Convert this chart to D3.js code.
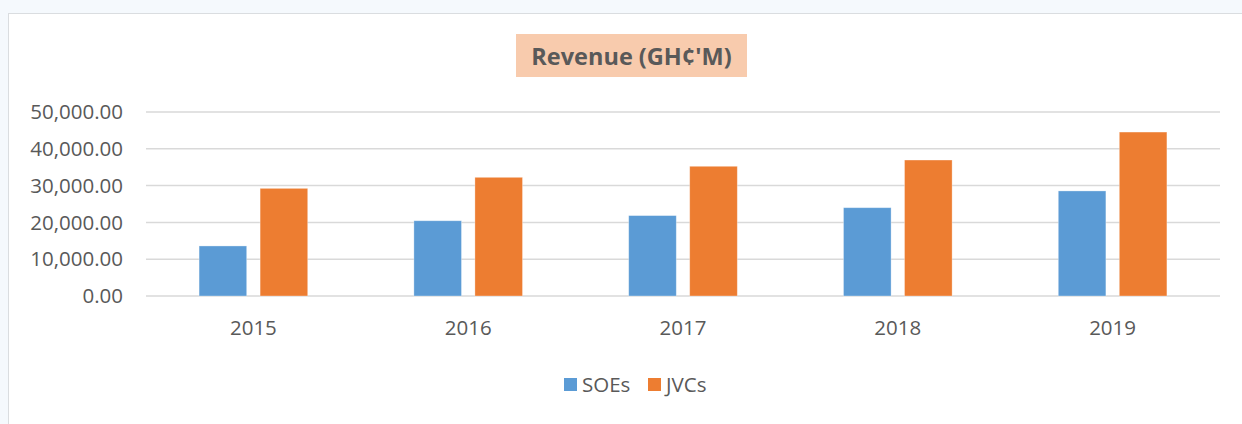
<!DOCTYPE html>
<html>
<head>
<meta charset="utf-8">
<script src="https://cdn.jsdelivr.net/npm/d3@7"></script>
<style>
  body { margin: 0; background: #f5f9fd; }
  svg { display: block; }
  text { font-family: "Open Sans", "Noto Sans", sans-serif; fill: #595959; }
</style>
</head>
<body>
<script>
var years = ["2015", "2016", "2017", "2018", "2019"];
var seriesNames = ["SOEs", "JVCs"];
var soes = [13600, 20450, 21850, 24000, 28550];
var jvcs = [29250, 32250, 35250, 36950, 44550];
var yTicks = [0, 10000, 20000, 30000, 40000, 50000];
var colors = ["#5b9bd5", "#ed7d31"];

var config = {
    width: 1242,
    height: 424,
    left: 146,
    right: 1220,
    top: 112,
    bottom: 296
}

var svg = d3.select("body").append("svg")
    .attr("width", config.width)
    .attr("height", config.height)

// chart frame
svg.append("rect")
    .attr("x", 8.5).attr("y", 13.5)
    .attr("width", config.width).attr("height", config.height)
    .attr("fill", "#fff").attr("stroke", "#dadde0")

var rows = years.map(function(y, i) {
    return {year: y, values: [soes[i], jvcs[i]]};
})

var x0 = d3.scaleBand().domain(years).range([config.left, config.right]).padding(0)
var x1 = d3.scaleBand().domain(d3.range(seriesNames.length))
    .range([0, x0.bandwidth()]).paddingInner(0.22).paddingOuter(0.87)
var y = d3.scaleLinear().domain([0, 50000]).range([config.bottom, config.top])

// gridlines
svg.append("g")
    .selectAll("line")
    .data(yTicks)
    .enter().append("line")
        .attr("x1", config.left).attr("x2", config.right)
        .attr("y1", function(d) { return y(d); })
        .attr("y2", function(d) { return y(d); })
        .attr("stroke", "#d9d9d9").attr("stroke-width", 1.5)

// y labels
svg.append("g")
    .selectAll("text")
    .data(yTicks)
    .enter().append("text")
        .attr("x", 123)
        .attr("y", function(d) { return y(d); })
        .attr("dy", "0.35em")
        .attr("text-anchor", "end")
        .style("font-size", "20.5px")
        .text(function(d) { return d3.format(",.2f")(d); })

// bars
var groups = svg.append("g")
    .selectAll("g")
    .data(rows)
    .enter().append("g")
        .attr("transform", function(d) { return "translate(" + x0(d.year) + ",0)"; })

groups.selectAll("rect")
    .data(function(d) { return d.values; })
    .enter().append("rect")
        .attr("x", function(d, i) { return x1(i); })
        .attr("width", x1.bandwidth())
        .attr("y", function(d) { return y(d); })
        .attr("height", function(d) { return y(0) - y(d); })
        .attr("fill", function(d, i) { return colors[i]; })
        .attr("stroke", "#fff").attr("stroke-opacity", 0.4).attr("stroke-width", 0.8)

// x labels
svg.append("g")
    .selectAll("text")
    .data(years)
    .enter().append("text")
        .attr("x", function(d) { return x0(d) + x0.bandwidth() / 2; })
        .attr("y", 328)
        .attr("dy", "0.35em")
        .attr("text-anchor", "middle")
        .style("font-size", "20.5px")
        .text(function(d) { return d; })

// title
var title = svg.append("g")
title.append("rect")
    .attr("x", 516).attr("y", 34).attr("width", 231).attr("height", 43)
    .attr("fill", "#f8cbad")
title.append("text")
    .attr("x", 631.5).attr("y", 57)
    .attr("dy", "0.35em")
    .attr("text-anchor", "middle")
    .style("font-size", "23.5px").style("font-weight", "bold")
    .text("Revenue (GH¢'M)")

// legend
var legendX = [564, 648];
var legend = svg.append("g")
    .selectAll("g")
    .data(seriesNames)
    .enter().append("g")
        .attr("transform", function(d, i) { return "translate(" + legendX[i] + ",378)"; })
legend.append("rect")
    .attr("width", 13).attr("height", 13)
    .attr("fill", function(d, i) { return colors[i]; })
legend.append("text")
    .attr("x", 18).attr("y", 7)
    .attr("dy", "0.35em")
    .style("font-size", "20.5px")
    .text(function(d) { return d; })
</script>
</body>
</html>
